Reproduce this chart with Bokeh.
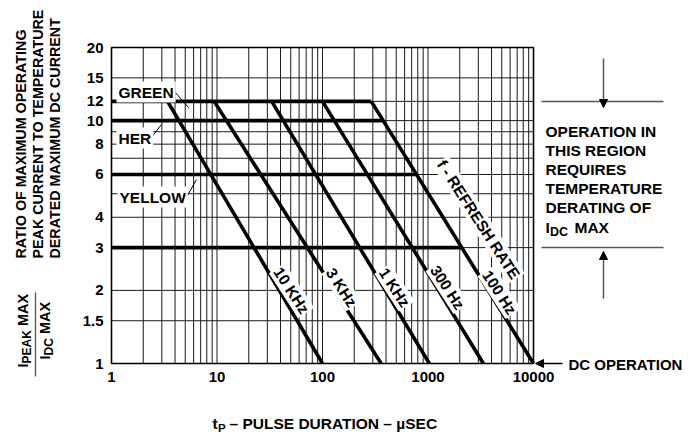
import numpy as np
from bokeh.plotting import figure
from bokeh.models import (FixedTicker, CustomJSTickFormatter, Label, Arrow,
                          NormalHead, ColumnDataSource, Range1d)
from bokeh.embed import file_html
from bokeh.resources import INLINE

# ---------------- data ----------------
LEVEL_NAMES = ["GREEN", "HER", "YELLOW", ""]
LEVELS = [12, 10, 6, 3]                 # Ipeak/Idc max plateaus
LEVEL_END_T = [290, 376, 780, 2080]     # tP where each plateau meets the 100 Hz line

FREQ_LABELS = ["10 KHz", "3 KHz", "1 KHz", "300 Hz", "100 Hz"]
FREQ_T_TOP = [3.4, 9.4, 33, 100, 290]       # tP (µs) at ratio 12
FREQ_T_DC = [100, 360, 1030, 3350, 10000]   # tP (µs) at ratio 1
RATIO_TOP = 12
RATIO_DC = 1

X_TICKS = [1, 10, 100, 1000, 10000]
Y_TICKS = [1, 1.5, 2, 3, 4, 6, 8, 10, 12, 15, 20]
X_GRID = [2, 3, 4, 5, 6, 7, 8, 9,
          10, 20, 30, 40, 50, 60, 70, 80, 90,
          100, 200, 300, 400, 500, 600, 700, 800, 900,
          1000, 2000, 3000, 4000, 5000, 6000, 7000, 8000, 9000]
Y_GRID = [1.5, 2, 3, 4, 5, 6, 7, 8, 9, 10, 12, 15]

FONT = "Liberation Sans"

# ---------------- canvas / plot-area geometry (pixels) ----------------
W, H = 690, 437
FL, FR, FT, FB = 111.0, 533.0, 47.0, 363.0
def dx(px):
    return 10 ** ((px - FL) / (FR - FL) * 4.0)
def dy(py):
    return 10 ** ((FB - py) / (FB - FT) * np.log10(20))

p = figure(x_axis_type="log", y_axis_type="log",
           x_range=Range1d(dx(0), dx(W)), y_range=Range1d(dy(H), dy(0)),
           frame_width=W, frame_height=H, min_border=0,
           output_backend="svg", toolbar_location=None)

p.background_fill_color = "white"
p.border_fill_color = "white"
p.outline_line_color = None
p.grid.visible = False

XMIN, XMAX = X_TICKS[0], X_TICKS[-1]
YMIN, YMAX = Y_TICKS[0], Y_TICKS[-1]

for ax in (p.xaxis[0], p.yaxis[0]):
    ax.axis_line_color = None
    ax.major_tick_line_color = None
    ax.minor_tick_line_color = None
    ax.major_tick_out = 0
    ax.major_tick_in = 0
    ax.major_label_text_font = FONT
    ax.major_label_text_font_style = "bold"
    ax.major_label_text_font_size = "15px"
    ax.major_label_text_color = "black"
    ax.formatter = CustomJSTickFormatter(code="return tick.toString();")
p.xaxis.ticker = FixedTicker(ticks=X_TICKS)
p.yaxis.ticker = FixedTicker(ticks=Y_TICKS)
p.xaxis.fixed_location = YMIN
p.yaxis.fixed_location = XMIN
p.xaxis.bounds = (XMIN, XMAX)
p.yaxis.bounds = (YMIN, YMAX)
p.xaxis.major_label_standoff = 8
p.yaxis.major_label_standoff = 8

# ---------------- grid (limited to the plot area) ----------------
p.segment(x0="x", y0="y0", x1="x", y1="y1",
          source=ColumnDataSource(dict(x=X_GRID, y0=[YMIN] * len(X_GRID),
                                       y1=[YMAX] * len(X_GRID))),
          line_color="#1a1a1a", line_width=1)
p.segment(x0="x0", y0="y", x1="x1", y1="y",
          source=ColumnDataSource(dict(y=Y_GRID, x0=[XMIN] * len(Y_GRID),
                                       x1=[XMAX] * len(Y_GRID))),
          line_color="#1a1a1a", line_width=1)
p.quad(left=[XMIN], right=[XMAX], bottom=[YMIN], top=[YMAX],
       fill_color=None, line_color="black", line_width=1.6)

# ---------------- thick curves ----------------
xs, ys = [], []
for lev, xe in zip(LEVELS, LEVEL_END_T):
    xs.append([XMIN, xe])
    ys.append([lev, lev])
for t0, t1 in zip(FREQ_T_TOP, FREQ_T_DC):
    xs.append([t0, t1])
    ys.append([RATIO_TOP, RATIO_DC])
p.multi_line(xs="xs", ys="ys", source=ColumnDataSource(dict(xs=xs, ys=ys)),
             line_color="black", line_width=3.6, line_join="miter")

# ---------------- helpers ----------------
def lab(text, px, py, size="15.5px", align="left", baseline="middle",
        angle=0, bg=None, pad=0):
    l = Label(x=dx(px), y=dy(py), text=text, text_font=FONT,
              text_font_style="bold", text_font_size=size, text_color="black",
              text_align=align, text_baseline=baseline,
              angle=angle, angle_units="deg")
    if bg is not None:
        l.background_fill_color = bg
        l.padding = pad
    p.add_layout(l)

def seg(px0, py0, px1, py1, color="black", width=1.0):
    p.segment(x0=[dx(px0)], y0=[dy(py0)], x1=[dx(px1)], y1=[dy(py1)],
              line_color=color, line_width=width)

def arrow(px0, py0, px1, py1, color="black", width=1.5):
    p.add_layout(Arrow(x_start=dx(px0), y_start=dy(py0), x_end=dx(px1), y_end=dy(py1),
                       line_color=color, line_width=width,
                       end=NormalHead(size=8, fill_color="black",
                                      line_color="black", line_width=1)))

# LED colour labels with leaders
lab(LEVEL_NAMES[0], 116, 91.5, bg="white", pad=2)
seg(174, 91, 188, 107)
lab(LEVEL_NAMES[1], 116, 137.5, bg="white", pad=2)
seg(150, 138, 161, 124)
lab(LEVEL_NAMES[2], 117, 196.5, bg="white", pad=2)
seg(187, 195, 196, 179)

# frequency labels along the lines
freq_pos = [(291, 290), (341, 287), (394, 287), (447, 287), (499, 292)]
for txt, (px, py) in zip(FREQ_LABELS, freq_pos):
    lab(txt, px, py, size="15.5px", align="center", angle=-57, bg="white", pad=1)
lab("f - REFRESH RATE", 478, 219, size="15.5px", align="center", angle=-57,
    bg="white", pad=1)

# ---------------- right-hand annotation ----------------
p.segment(x0=[dx(541), dx(541)], x1=[dx(663), dx(663)],
          y0=[LEVELS[0], LEVELS[3]], y1=[LEVELS[0], LEVELS[3]],
          line_color="#555555", line_width=1.5)
arrow(603, 58, 603, 107, color="#555555")
arrow(603, 298, 603, 251, color="#555555")

right_lines = ["OPERATION IN", "THIS REGION", "REQUIRES", "TEMPERATURE", "DERATING OF"]
for i, t in enumerate(right_lines):
    lab(t, 545, 130.5 + 19.2 * i)
lab("I", 545, 227)
lab("DC", 549.5, 231, size="12.5px")
lab("MAX", 574, 227)

# DC operation
lab("DC OPERATION", 568, 364, size="15px")
arrow(562, 363, 535, 363, color="black")

# ---------------- axis titles ----------------
lab("t", 212, 423)
lab("P", 217.5, 427, size="11.5px")
lab("– PULSE DURATION – µSEC", 229, 423)

lab("RATIO OF MAXIMUM OPERATING", 20, 258, size="14.3px", angle=90)
lab("PEAK CURRENT TO TEMPERATURE", 37, 258, size="14.3px", angle=90)
lab("DERATED MAXIMUM DC CURRENT", 54, 258, size="14.3px", angle=90)

lab("I", 22, 367, size="14.5px", angle=90)
lab("PEAK", 26.5, 363, size="12px", angle=90)
lab("MAX", 22, 325.5, size="14.5px", angle=90)
seg(35, 292, 35, 376, color="#555555", width=1.3)
lab("I", 44, 359, size="14.5px", angle=90)
lab("DC", 48.5, 355, size="12px", angle=90)
lab("MAX", 44, 333.5, size="14.5px", angle=90)

open("out.html", "w").write(file_html(p, INLINE))
